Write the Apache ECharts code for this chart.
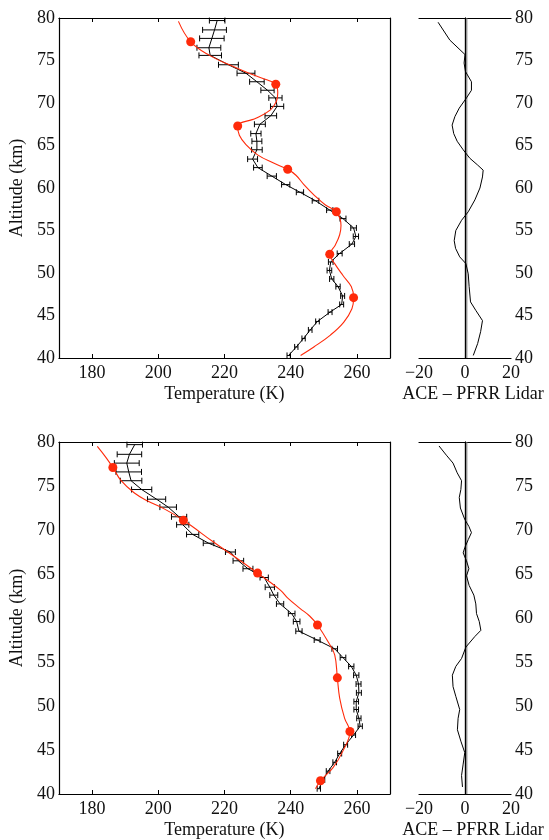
<!DOCTYPE html>
<html>
<head>
<meta charset="utf-8">
<script src="https://cdn.jsdelivr.net/npm/echarts@6/dist/echarts.min.js"></script>
<style>html,body{margin:0;padding:0;background:#fff}#c{width:549px;height:840px}</style>
</head>
<body>
<div id="c"></div>
<script>
// ---------- Top panel: lidar profile (K) ----------
const topLidarAlt = [40.3,41.3,42.3,43.3,44.3,45.4,46.3,47.3,48.4,49.3,50.3,51.3,52.3,53.4,54.3,55.3,56.4,57.4,58.5,59.5,60.4,61.4,62.4,63.4,64.5,65.5,66.4,67.5,68.5,69.6,70.6,71.5,72.5,73.5,74.5,75.6,76.5,77.6,78.6,79.7];
const topLidarT = [239.4,241.7,243.9,245.9,248.1,251.9,255.4,255.7,254.3,252.4,251.7,252.1,254.8,258.5,259.7,259.0,255.8,251.8,247.5,242.8,238.5,234.3,230.1,228.5,229.8,229.8,229.5,230.7,234.0,235.9,235.4,233.0,229.8,226.5,221.2,215.7,215.3,216.2,217.0,217.8];
const topLidarErr = [0.5,0.5,0.5,0.55,0.55,0.6,0.6,0.6,0.65,0.65,0.7,0.7,0.75,0.8,0.8,0.85,0.9,0.95,1.0,1.1,1.25,1.4,1.3,1.5,1.6,1.5,1.55,1.65,1.75,2.0,2.0,2.0,2.2,2.7,3.0,3.4,3.6,3.7,3.6,2.35];
// ACE profile points and curve
const topAceDotAlt = [47.1,52.2,57.2,62.2,67.3,72.2,77.2];
const topAceDotT = [259.0,251.8,253.8,239.1,224.0,235.5,209.8];
const topAceCurveAlt = [40.3,41.3,42.7,44.2,45.8,47.1,48.4,49.7,51.1,52.2,53.3,54.5,55.6,57.2,58.0,59.2,60.4,61.5,62.2,62.9,63.9,65.1,66.2,67.3,68.2,69.2,70.2,71.2,72.2,72.7,73.4,74.4,75.6,77.2,79.6];
const topAceCurveT = [243.0,247.0,252.0,256.0,258.5,259.0,258.3,255.8,253.3,251.8,253.5,254.8,255.2,253.8,250.5,247.0,244.0,241.6,239.1,235.0,230.0,226.5,224.5,224.0,229.5,233.9,235.7,236.1,235.5,233.0,228.0,222.0,215.5,209.8,206.1];
// ACE - PFRR Lidar difference
const topDiffAlt = [40.3,41.7,43.1,44.4,45.6,46.6,48.4,49.9,51.1,51.9,52.9,53.8,55.0,56.2,57.2,58.6,60.0,61.3,62.1,62.7,63.5,64.5,65.5,66.4,67.4,68.4,69.4,70.6,71.5,72.5,73.7,74.7,75.7,77.4,79.5];
const topDiffVal = [3.6,5.5,6.8,7.6,4.7,2.4,1.8,1.4,0.4,-2.3,-4.1,-4.7,-4.0,-1.5,1.4,4.3,6.5,7.6,7.9,5.5,2.1,-0.8,-3.4,-4.9,-5.6,-4.4,-2.5,0.65,2.8,2.8,0.2,-0.4,0.0,-6.6,-11.7];

// ---------- Bottom panel ----------
const botLidarAlt = [40.6,41.6,42.6,43.6,44.6,45.6,46.7,47.7,48.6,49.6,50.5,51.5,52.5,53.5,54.5,55.5,56.5,57.5,58.5,59.6,60.5,61.6,62.6,63.5,64.6,65.6,66.5,67.5,68.5,69.5,70.6,71.5,72.6,73.5,74.6,75.6,76.6,77.6,78.6,79.7];
const botLidarT = [248.5,249.8,251.3,253.3,254.8,256.6,259.0,261.0,260.6,259.8,259.8,260.6,260.5,259.8,258.3,255.8,253.3,248.0,242.5,241.8,240.3,236.8,234.9,233.7,232.0,227.1,224.2,221.8,215.2,210.4,207.4,206.3,203.0,199.5,195.0,191.8,191.1,190.5,191.3,192.9];
const botLidarErr = [0.5,0.5,0.55,0.55,0.6,0.6,0.6,0.65,0.65,0.7,0.7,0.75,0.75,0.8,0.8,0.85,0.85,0.9,0.95,1.0,1.0,1.1,1.2,1.4,1.25,1.5,1.6,1.5,1.6,1.85,1.85,2.3,2.5,2.75,3.05,3.25,3.85,3.75,3.7,2.35];
const botAceDotAlt = [41.5,47.1,53.2,59.2,65.1,71.1,77.1];
const botAceDotT = [249.0,257.9,254.1,248.1,230.0,207.6,186.3];
const botAceCurveAlt = [40.6,41.5,43.0,44.9,47.1,48.6,50.9,53.2,55.8,57.3,59.2,60.2,61.1,62.2,63.2,65.1,66.5,68.6,71.1,72.4,73.3,74.2,75.6,77.1,78.2,79.5];
const botAceCurveT = [247.5,249.0,252.8,255.8,257.9,256.3,254.8,254.1,253.3,251.3,248.1,245.8,242.8,239.3,236.8,230.0,224.8,216.8,207.6,201.8,196.8,192.8,188.8,186.3,184.3,181.6];
const botDiffAlt = [40.8,42.1,43.4,44.7,46.0,47.3,48.6,49.6,51.1,52.2,53.5,54.5,55.4,56.7,57.9,58.6,59.6,60.5,61.6,62.6,63.7,64.8,65.6,66.5,67.4,68.0,68.9,69.7,70.4,71.2,72.5,73.7,74.6,75.6,76.5,77.6,78.5,79.55];
const botDiffVal = [-1.1,-1.5,-0.8,-0.1,-1.8,-3.3,-3.0,-2.3,-4.0,-5.2,-5.5,-4.0,-1.5,0.4,4.3,6.9,6.2,5.0,4.7,3.85,1.8,0.65,1.7,0.65,-0.8,-0.1,1.4,2.8,1.7,-0.1,-2.0,-2.5,-1.8,-1.5,-3.4,-5.2,-8.1,-11.3];

// Axis ticks / reference line
const tempTicks = [180,200,220,240,260];
const altRange = [40,80];
const zeroRef = 0.8;

const FONT = "'Liberation Serif', 'Times New Roman', serif";
const RED = '#ff2a0a';
const tickStyle = {fontFamily: FONT, fontSize: 18, color: '#111'};

const grids = [
  {left: 58, top: 18, width: 332, height: 340},
  {left: 419, top: 18, width: 92, height: 340},
  {left: 58, top: 442, width: 332, height: 355},
  {left: 419, top: 442, width: 92, height: 355}
];

const lineAxis = {show: true, lineStyle: {color: '#000', width: 1.2}};
const xAxes = [], yAxes = [];
grids.forEach((g, i) => {
  const isTemp = (i % 2 === 0);
  const xBase = isTemp ? {min: 170, max: 270} : {min: -20, max: 20, interval: 20};
  xAxes.push(Object.assign({
    type: 'value', gridIndex: i, position: 'bottom',
    name: isTemp ? 'Temperature (K)' : 'ACE \u2013 PFRR Lidar',
    nameLocation: 'middle', nameGap: 27,
    nameTextStyle: Object.assign({}, tickStyle, isTemp ? {} : {padding: [0, 0, 0, 16]}),
    axisLine: lineAxis,
    axisTick: isTemp ? {show: true, inside: true, length: 4, customValues: tempTicks, lineStyle: {color: '#000'}} : {show: false},
    axisLabel: Object.assign({margin: 6}, tickStyle, isTemp ? {customValues: tempTicks} : {formatter: v => String(v).replace('-', '\u2212')}),
    splitLine: {show: false}
  }, xBase));
  xAxes.push(Object.assign({
    type: 'value', gridIndex: i, position: 'top',
    axisLine: lineAxis,
    axisTick: isTemp ? {show: true, inside: true, length: 4, customValues: tempTicks, lineStyle: {color: '#000'}} : {show: false},
    axisLabel: {show: false}, splitLine: {show: false}
  }, xBase));
  const labelLeft = isTemp;
  yAxes.push({
    type: 'value', gridIndex: i, position: labelLeft ? 'left' : 'right',
    min: 40, max: 80, interval: 5,
    name: labelLeft ? 'Altitude (km)' : '', nameLocation: 'middle', nameGap: 30, nameRotate: 90,
    nameTextStyle: tickStyle,
    axisLine: lineAxis, axisTick: {show: false},
    axisLabel: Object.assign({margin: 4}, tickStyle),
    splitLine: {show: false}
  });
  yAxes.push({
    type: 'value', gridIndex: i, position: labelLeft ? 'right' : 'left',
    min: 40, max: 80, interval: 5,
    axisLine: lineAxis, axisTick: {show: false}, axisLabel: {show: false}, splitLine: {show: false}
  });
});

function pairs(xs, ys) { return xs.map((x, k) => [x, ys[k]]); }
function triples(xs, ys, es) { return xs.map((x, k) => [x, ys[k], es[k]]); }

function errBar(params, api) {
  const T = api.value(0), alt = api.value(1), e = api.value(2);
  const l = api.coord([T - e, alt]);
  const r = api.coord([T + e, alt]);
  const h = 3;
  const st = {stroke: '#000', lineWidth: 1};
  return {type: 'group', children: [
    {type: 'line', shape: {x1: l[0], y1: l[1], x2: r[0], y2: r[1]}, style: st},
    {type: 'line', shape: {x1: l[0], y1: l[1] - h, x2: l[0], y2: l[1] + h}, style: st},
    {type: 'line', shape: {x1: r[0], y1: r[1] - h, x2: r[0], y2: r[1] + h}, style: st}
  ]};
}

function panelSeries(gi, lAlt, lT, lErr, cAlt, cT, dAlt, dT, diffAlt, diffVal) {
  const xi = gi * 2, yi = gi * 2;
  const xd = (gi + 1) * 2, yd = (gi + 1) * 2;
  return [
    {type: 'custom', xAxisIndex: xi, yAxisIndex: yi, renderItem: errBar,
     data: triples(lT, lAlt, lErr), encode: {x: 0, y: 1}, z: 3, silent: true},
    {type: 'line', xAxisIndex: xi, yAxisIndex: yi, data: pairs(lT, lAlt),
     showSymbol: false, lineStyle: {color: '#000', width: 1}, z: 4, silent: true},
    {type: 'line', xAxisIndex: xi, yAxisIndex: yi, data: pairs(cT, cAlt), smooth: 0.4,
     showSymbol: false, lineStyle: {color: RED, width: 1.1}, z: 5, silent: true},
    {type: 'scatter', xAxisIndex: xi, yAxisIndex: yi, data: pairs(dT, dAlt),
     symbolSize: 9, itemStyle: {color: RED, opacity: 1}, z: 6, silent: true},
    {type: 'line', xAxisIndex: xd, yAxisIndex: yd, data: altRange.map(a => [zeroRef, a]),
     showSymbol: false, lineStyle: {color: '#777', width: 1}, z: 3, silent: true},
    {type: 'line', xAxisIndex: xd, yAxisIndex: yd, data: pairs(diffVal, diffAlt),
     showSymbol: false, lineStyle: {color: '#000', width: 1}, z: 4, silent: true}
  ];
}

const series = [].concat(
  panelSeries(0, topLidarAlt, topLidarT, topLidarErr, topAceCurveAlt, topAceCurveT, topAceDotAlt, topAceDotT, topDiffAlt, topDiffVal),
  panelSeries(2, botLidarAlt, botLidarT, botLidarErr, botAceCurveAlt, botAceCurveT, botAceDotAlt, botAceDotT, botDiffAlt, botDiffVal)
);

const chart = echarts.init(document.getElementById('c'), null, {renderer: 'canvas'});
chart.setOption({
  animation: false,
  backgroundColor: '#fff',
  textStyle: {fontFamily: FONT},
  grid: grids,
  xAxis: xAxes,
  yAxis: yAxes,
  series: series
});
</script>
</body>
</html>
